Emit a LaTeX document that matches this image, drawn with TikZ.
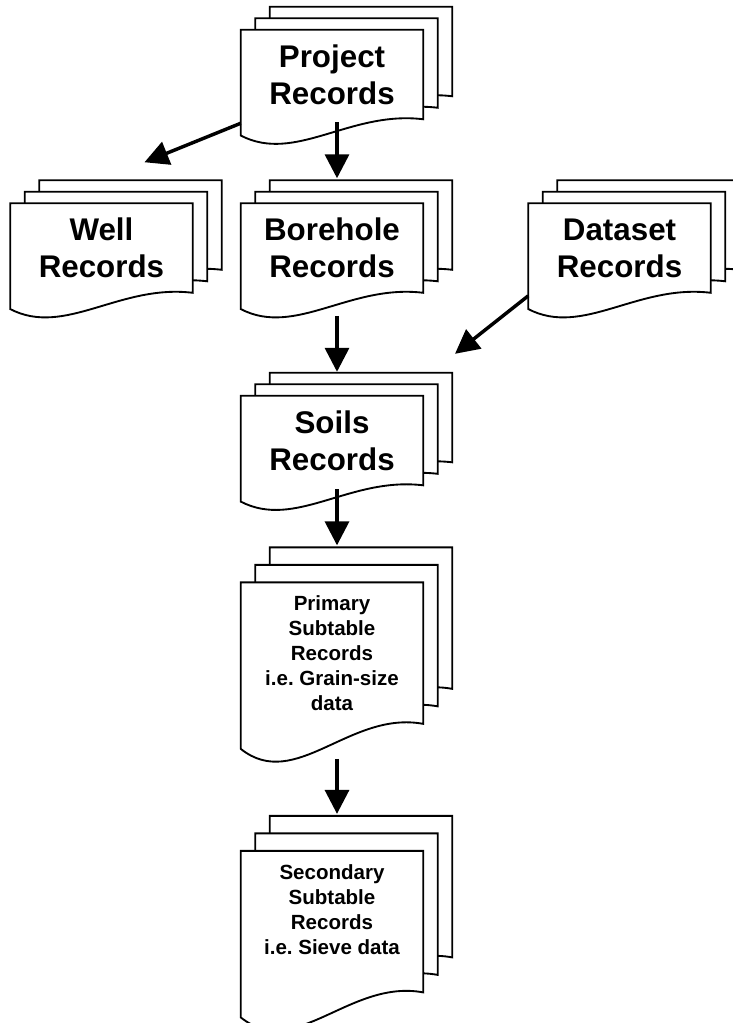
\documentclass[tikz,border=0pt]{standalone}
\usepackage{fontspec}
\setmainfont{Liberation Sans}
\usetikzlibrary{arrows.meta,positioning,backgrounds}
\frenchspacing

% three stacked pages with a wavy bottom edge, drawn behind a record node
% #1 node name, #2 vertical step between the pages, #3 rise of the wavy edge
\newcommand{\docstack}[3]{%
  \begin{pgfonlayer}{background}
  \foreach \k in {2,1,0}{
    \draw[page]
      ([shift={(\k*10.875pt,\k*#2-#3)}]#1.south west)
      -- ([shift={(\k*10.875pt,\k*#2)}]#1.north west)
      -- ([shift={(\k*10.875pt,\k*#2)}]#1.north east)
      -- ([shift={(\k*10.875pt,\k*#2)}]#1.south east)
      .. controls ([shift={(\k*10.875pt+81.9pt,\k*#2-#3+1.55*#3)}]#1.south west)
      and ([shift={(\k*10.875pt+40.95pt,\k*#2-#3-1.74*#3)}]#1.south west)
      .. ([shift={(\k*10.875pt,\k*#2-#3)}]#1.south west) -- cycle;
  }
  \end{pgfonlayer}}

\begin{document}
\begin{tikzpicture}
[% STYLES
% The page style is used to draw the outline of every sheet
page/.style={draw, fill=white, line width=1.4pt, line join=miter},
% The record style is used for the short records with big titles
record/.style={rectangle, inner sep=0pt, minimum width=136.5pt, minimum height=66.75pt, align=center, font=\bfseries\fontsize{23.5}{27.75}\selectfont},
% The subrecord style is used for the long subtable records
subrecord/.style={record, minimum height=105.75pt, font=\bfseries\fontsize{15.4}{18.75}\selectfont},
% The link style is used for the arrows between the records
link/.style={-{Triangle[width=18pt,length=18pt]}, line width=2.6pt}]

\useasboundingbox (0,0) rectangle (549pt,-767.25pt);

% Draw records
\node [record] (project) at (249pt,-55.875pt) {Project\\Records};
\node [record, below=63pt of project] (borehole) {Borehole\\Records};
\node [record, left=36pt of borehole] (well) {Well\\Records};
\node [record, right=78.75pt of borehole] (dataset) {Dataset\\Records};
\node [record, below=77.25pt of borehole] (soils) {Soils\\Records};
\node [subrecord, below=72.75pt of soils] (primary) {Primary\\Subtable\\Records\\i.e. Grain-size\\data};
\node [subrecord, text depth=18.75pt, below=95.25pt of primary] (secondary) {Secondary\\Subtable\\Records\\i.e. Sieve data};

% Draw the sheets behind the records
\docstack{project}{8.625pt}{12.2pt}
\docstack{well}{8.625pt}{12.2pt}
\docstack{borehole}{8.625pt}{12.2pt}
\docstack{dataset}{8.625pt}{12.2pt}
\docstack{soils}{8.625pt}{12.2pt}
\docstack{primary}{13.125pt}{18.75pt}
\docstack{secondary}{13.125pt}{18.75pt}

% free ends of the slanted arrows
\coordinate (well-in) at ([shift={(32.25pt,30.75pt)}]well.north);
\coordinate (soils-in) at ([shift={(92.25pt,31.5pt)}]soils.north);

% Draw the links between records
\draw[link] ([yshift=-3pt]project.south west) -- (well-in);
\draw[link] ([xshift=3.75pt,yshift=-2.25pt]project.south) -- ([xshift=3.75pt,yshift=18.75pt]borehole.north);
\draw[link] ([xshift=3.75pt,yshift=-17.25pt]borehole.south) -- ([xshift=3.75pt,yshift=18pt]soils.north);
\draw[link] ([yshift=-2.25pt]dataset.south west) -- (soils-in);
\draw[link] ([xshift=3.75pt,yshift=-3pt]soils.south) -- ([xshift=3.75pt,yshift=27.75pt]primary.north);
\draw[link] ([xshift=3.75pt,yshift=-26.25pt]primary.south) -- ([xshift=3.75pt,yshift=27.75pt]secondary.north);

\end{tikzpicture}
\end{document}
